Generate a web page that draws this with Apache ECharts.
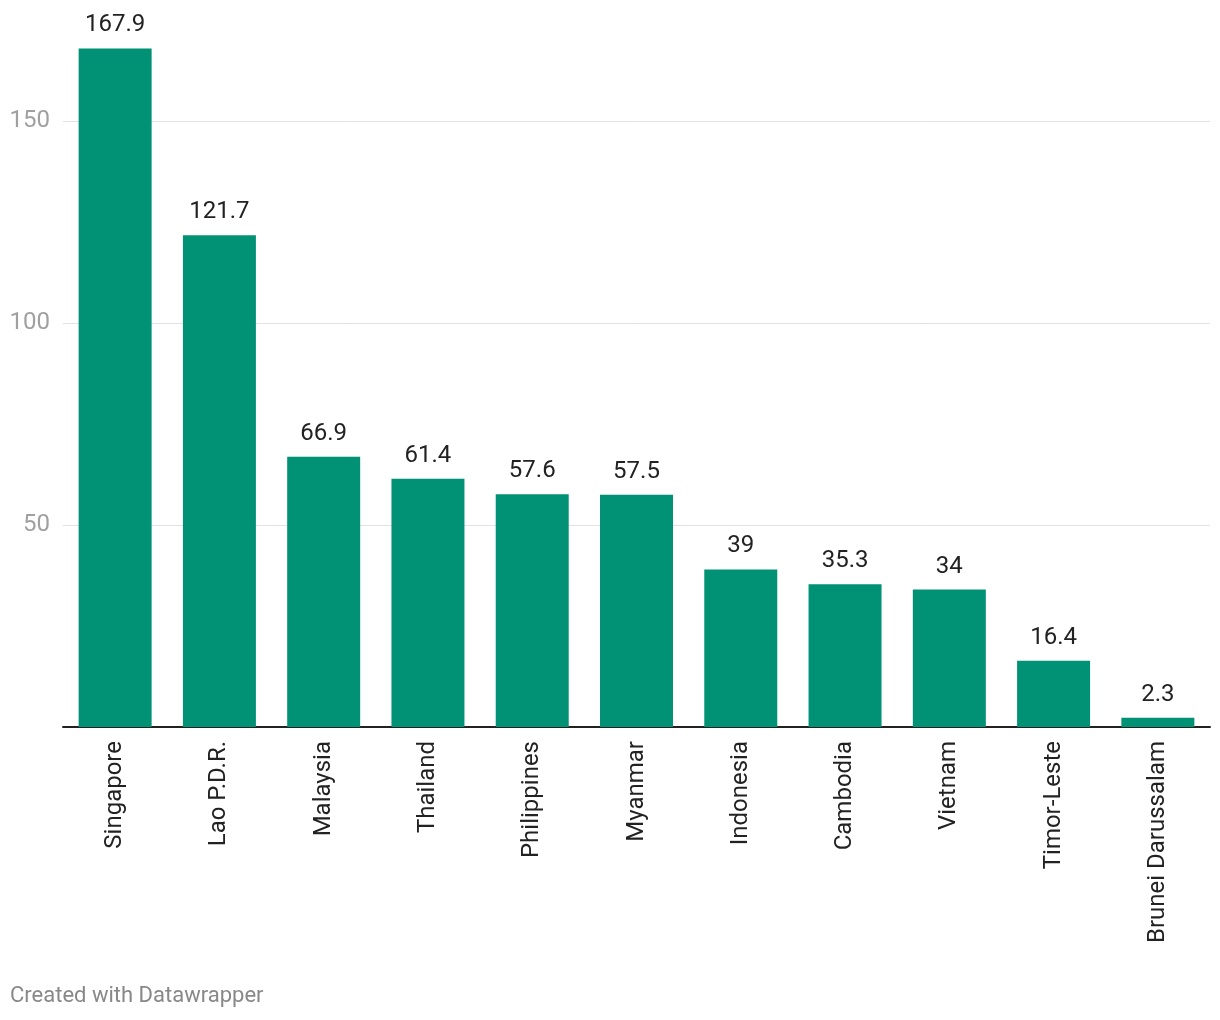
<!DOCTYPE html>
<html>
<head>
<meta charset="utf-8">
<script src="https://cdn.jsdelivr.net/npm/echarts@6/dist/echarts.min.js"></script>
<style>
html,body{margin:0;padding:0;background:#fff;}
#c{width:1220px;height:1020px;}
</style>
</head>
<body>
<div id="c"></div>
<script>
const categories = ["Singapore","Lao P.D.R.","Malaysia","Thailand","Philippines","Myanmar","Indonesia","Cambodia","Vietnam","Timor-Leste","Brunei Darussalam"];
const values = [167.9,121.7,66.9,61.4,57.6,57.5,39,35.3,34,16.4,2.3];
const yTicks = [50,100,150];
const yMax = 170;

const chart = echarts.init(document.getElementById('c'));
chart.setOption({
  animation:false,
  textStyle:{fontFamily:'Roboto'},
  graphic:[{type:'text',left:10,top:985,style:{text:'Created with Datawrapper',fontFamily:'Roboto',fontSize:22,fill:'#888'}}],
  grid:{left:63,right:10,top:40,height:687},
  xAxis:{
    type:'category',data:categories,
    axisLine:{lineStyle:{color:'#222',width:2}},
    axisTick:{show:false},
    axisLabel:{rotate:90,fontSize:24,color:'#222',margin:14,interval:0,fontFamily:'Roboto'}
  },
  yAxis:{
    type:'value',min:0,max:yMax,interval:50,
    axisLine:{show:false},axisTick:{show:false},
    axisLabel:{fontSize:24,color:'#a0a0a0',margin:13,fontFamily:'Roboto',showMaxLabel:false,
      formatter:v=>yTicks.indexOf(v)>=0?String(v):''},
    splitLine:{show:false}
  },
  series:[{
    type:'bar',data:values,barCategoryGap:'30%',z:3,
    itemStyle:{color:'#019174'},
    label:{show:true,position:'top',distance:11,fontSize:24,color:'#222',fontFamily:'Roboto'},
    markLine:{
      silent:true,symbol:'none',z:1,
      label:{show:false},
      lineStyle:{color:'#e2e2e2',width:1,type:'solid'},
      data:yTicks.map(t=>({yAxis:t}))
    }
  }]
});
</script>
</body>
</html>
